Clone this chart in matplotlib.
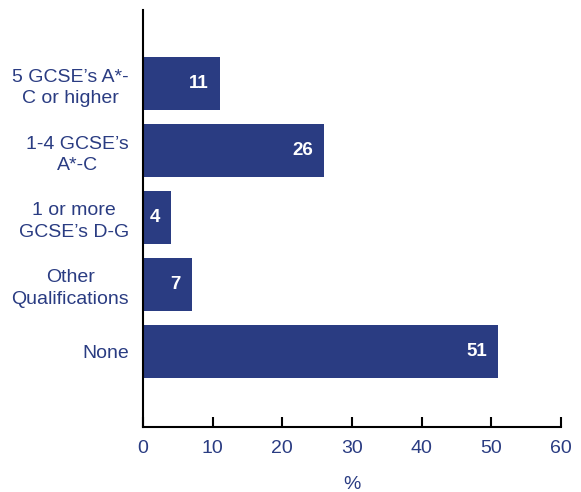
import matplotlib.pyplot as plt

categories = ["5 GCSE\u2019s A*-\nC or higher", "1-4 GCSE\u2019s\nA*-C",
              "1 or more\nGCSE\u2019s D-G", "Other\nQualifications", "None"]
values = [11, 26, 4, 7, 51]

navy = '#2A3C82'
plt.rcParams['font.family'] = ['Liberation Sans', 'DejaVu Sans']

fig = plt.figure(figsize=(5.81, 4.92), dpi=100)
ax = fig.add_axes([0.2461, 0.1321, 0.7195, 0.8476])

pos = list(range(len(categories) - 1, -1, -1))
ax.barh(pos, values, height=0.79, color=navy)

for p, v in zip(pos, values):
    ax.annotate(str(v), xy=(v, p), xytext=(-8, 0), textcoords='offset points',
                ha='right', va='center', color='white', fontweight='bold', fontsize=13.5)

ax.set_xlim(0, 60)
ax.set_ylim(-1.13, 5.1)
ax.set_xticks(range(0, 61, 10))
ax.set_yticks(pos)
ax.set_yticklabels(categories, multialignment='center', color=navy, fontsize=14,
                   linespacing=1.35)
ax.tick_params(axis='y', length=0, pad=10)
ax.tick_params(axis='x', direction='in', length=7, width=1.5, colors='black',
               labelcolor=navy, labelsize=14, pad=9)
ax.set_xlabel('%', color=navy, fontsize=14, labelpad=14)

for s in ['top', 'right']:
    ax.spines[s].set_visible(False)
for s in ['left', 'bottom']:
    ax.spines[s].set_linewidth(1.5)

fig.savefig('out.png', dpi=100)
